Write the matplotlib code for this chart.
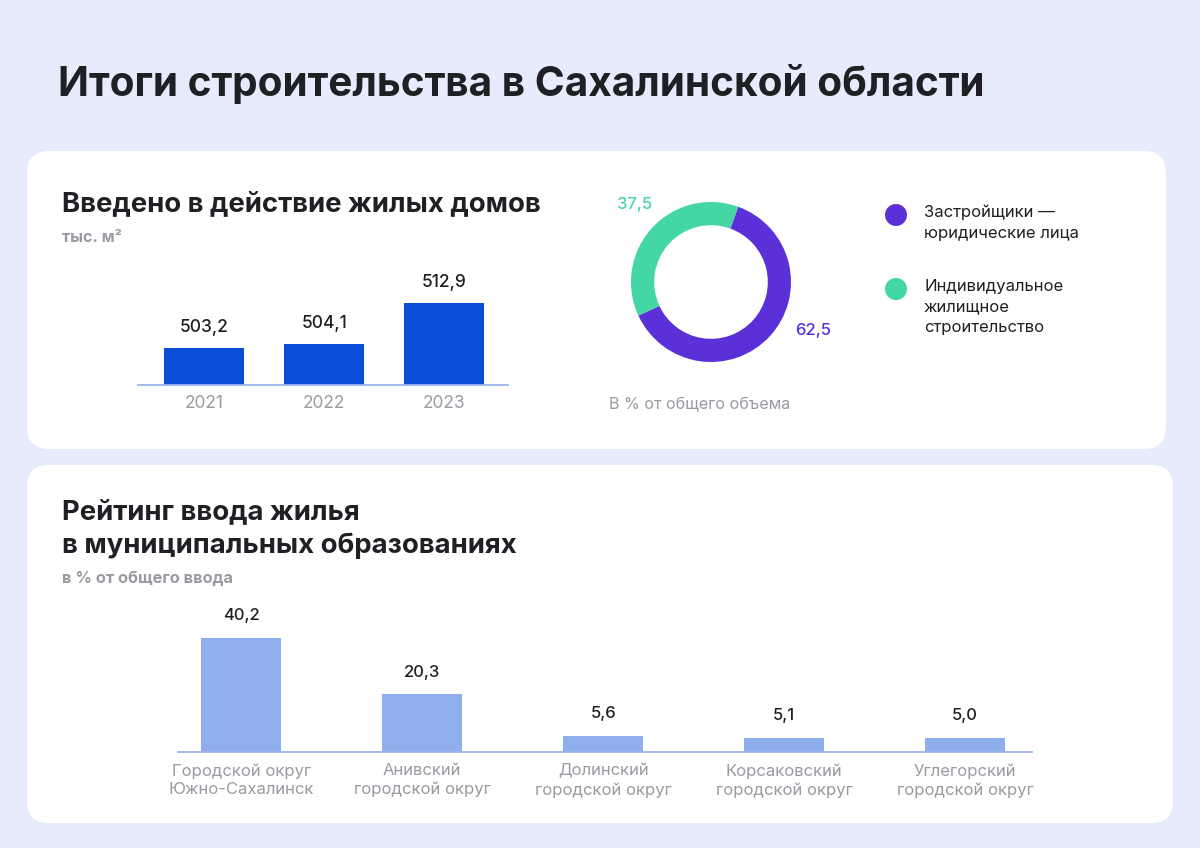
import matplotlib.pyplot as plt
from matplotlib.patches import FancyBboxPatch, Circle

plt.rcParams['font.family'] = ['Inter', 'DejaVu Sans']

W, H = 1200, 848
BG = "#E6ECFB"
GRAY = "#9A9BA2"
DARK = "#1F2024"

# data
years = ["2021", "2022", "2023"]
housing = [503.2, 504.1, 512.9]

donut_labels = ["Застройщики —\nюридические лица", "Индивидуальное\nжилищное\nстроительство"]
donut_values = [62.5, 37.5]
donut_colors = ["#5B30D8", "#45D6A6"]

districts = ["Городской округ\nЮжно-Сахалинск", "Анивский\nгородской округ",
             "Долинский\nгородской округ", "Корсаковский\nгородской округ",
             "Углегорский\nгородской округ"]
shares = [40.2, 20.3, 5.6, 5.1, 5.0]


def fmt(v):
    return f"{v:.1f}".replace(".", ",")


def px_axes(fig, x0, y0, x1, y1):
    # pixel box (top-left origin) -> figure axes
    return fig.add_axes([x0 / W, 1 - y1 / H, (x1 - x0) / W, (y1 - y0) / H])


fig = plt.figure(figsize=(W / 100, H / 100), dpi=100)
fig.patch.set_facecolor(BG)

bg = fig.add_axes([0, 0, 1, 1])
bg.set_xlim(0, W)
bg.set_ylim(H, 0)
bg.axis("off")

for (x0, y0, x1, y1) in [(27, 151, 1166, 449), (27, 465, 1173, 823)]:
    bg.add_patch(FancyBboxPatch((x0, y0), x1 - x0, y1 - y0,
                                boxstyle="round,pad=0,rounding_size=22",
                                fc="white", ec="none"))

bg.text(58, 84, "Итоги строительства в Сахалинской области", fontsize=29.2,
        fontweight="bold", color=DARK, va="center", ha="left")

# card 1
bg.text(62, 204, "Введено в действие жилых домов", fontsize=19.8,
        fontweight="bold", color=DARK, va="center", ha="left")
bg.text(62, 237, "тыс. м²", fontsize=11.5, fontweight="bold", color=GRAY,
        va="center", ha="left")

ax1 = px_axes(fig, 138, 270, 508, 385)
x = range(len(years))
ax1.bar(x, housing, width=0.667, color="#0B4FD9", bottom=0)
ax1.set_ylim(495.2, 520)
ax1.set_xlim(-0.55, 2.53)
for i, v in zip(x, housing):
    ax1.text(i, v + 2.6, fmt(v), ha="center", va="bottom", fontsize=12.5,
             color=DARK, fontweight="medium")
for s in ["top", "right", "left"]:
    ax1.spines[s].set_visible(False)
ax1.spines["bottom"].set_color("#9DB4EC")
ax1.spines["bottom"].set_linewidth(1.3)
ax1.set_yticks([])
ax1.set_xticks(list(x))
ax1.set_xticklabels(years, fontsize=12.5, color=GRAY)
ax1.tick_params(axis="x", length=0, pad=7)
ax1.patch.set_alpha(0)

# donut
axd = px_axes(fig, 631, 202, 791, 362)
axd.pie(donut_values[::-1], colors=donut_colors[::-1], startangle=70,
        counterclock=True, radius=1,
        wedgeprops=dict(width=0.29, edgecolor="none"))
axd.set_xlim(-1, 1)
axd.set_ylim(-1, 1)
axd.set_aspect("equal")
bg.text(635, 204, fmt(donut_values[1]), color=donut_colors[1], fontsize=12,
        ha="center", va="center", fontweight="medium")
bg.text(813, 331, fmt(donut_values[0]), color=donut_colors[0], fontsize=12,
        ha="center", va="center", fontweight="medium")
bg.text(609, 405, "В % от общего объема", color=GRAY, fontsize=11.6,
        ha="left", va="center")

for (cy, lbl, col) in zip([215, 289], donut_labels, donut_colors):
    bg.add_patch(Circle((896, cy), 11, fc=col, ec="none"))
    bg.text(924, cy - 10, lbl, fontsize=12, color=DARK, ha="left", va="top",
            linespacing=1.45)

# card 2
bg.text(62, 512, "Рейтинг ввода жилья", fontsize=19.8, fontweight="bold",
        color=DARK, va="center", ha="left")
bg.text(62, 546, "в муниципальных образованиях", fontsize=19.8,
        fontweight="bold", color=DARK, va="center", ha="left")
bg.text(62, 578, "в % от общего ввода", fontsize=11.8, fontweight="bold",
        color=GRAY, va="center", ha="left")

ax2 = px_axes(fig, 178, 600, 1032, 752)
x2 = range(len(districts))
ax2.bar(x2, shares, width=0.442, color="#8FAEEE")
ax2.set_ylim(0, 53.6)
ax2.set_xlim(-0.35, 4.37)
for i, v in zip(x2, shares):
    ax2.text(i, v + 5.2, fmt(v), ha="center", va="bottom", fontsize=12,
             color=DARK, fontweight="medium")
for s in ["top", "right", "left"]:
    ax2.spines[s].set_visible(False)
ax2.spines["bottom"].set_color("#9DB4EC")
ax2.spines["bottom"].set_linewidth(1.3)
ax2.set_yticks([])
ax2.set_xticks(list(x2))
ax2.set_xticklabels(districts, fontsize=12, color=GRAY, linespacing=1.3)
ax2.tick_params(axis="x", length=0, pad=8)
ax2.patch.set_alpha(0)

fig.savefig("out.png", dpi=100, facecolor=BG)
